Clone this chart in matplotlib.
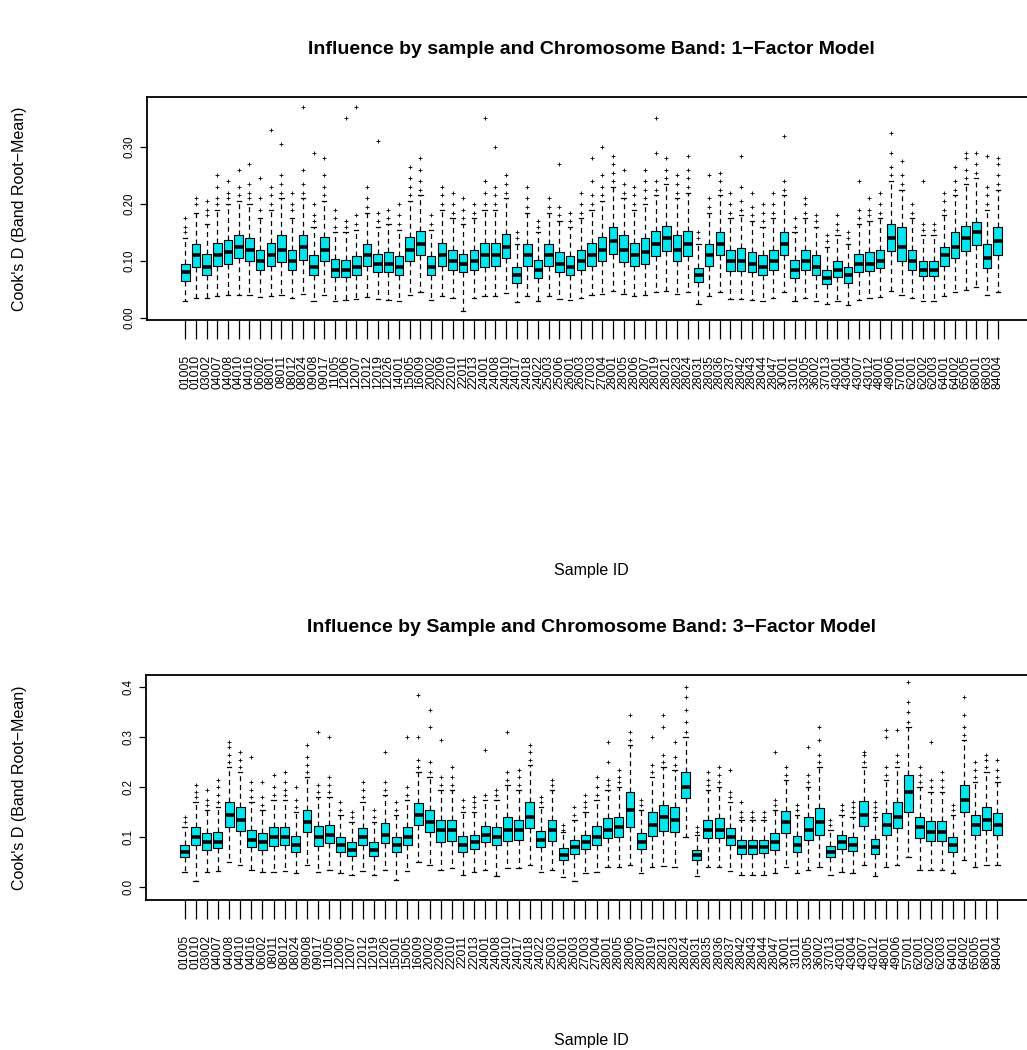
import matplotlib
matplotlib.use('Agg')
import matplotlib.pyplot as plt

plt.rcParams['font.family'] = ['Liberation Sans', 'DejaVu Sans']

# ---------------- data: top panel (1-factor model) ----------------
labels_top = ["01005", "01010", "03002", "04007", "04008", "04010", "04016", "06002", "08001", "08011",
              "08012", "08024", "09008", "09017", "11005", "12006", "12007", "12012", "12019", "12026",
              "14001", "15005", "16009", "20002", "22009", "22010", "22011", "22013", "24001", "24008",
              "24010", "24017", "24018", "24022", "25003", "25006", "26001", "26003", "27003", "27004",
              "28001", "28005", "28006", "28007", "28019", "28021", "28023", "28024", "28031", "28035",
              "28036", "28037", "28042", "28043", "28044", "28047", "30001", "31001", "33005", "36002",
              "37013", "43001", "43004", "43007", "43012", "48001", "49006", "57001", "62001", "62002",
              "62003", "64001", "64002", "65005", "68001", "68003", "84004"]

med_top = [0.080, 0.110, 0.090, 0.110, 0.115, 0.125, 0.120, 0.100, 0.110, 0.120,
           0.100, 0.125, 0.090, 0.120, 0.085, 0.085, 0.090, 0.110, 0.095, 0.095,
           0.090, 0.120, 0.130, 0.090, 0.110, 0.100, 0.095, 0.100, 0.110, 0.110,
           0.125, 0.075, 0.110, 0.085, 0.110, 0.095, 0.090, 0.100, 0.110, 0.120,
           0.135, 0.120, 0.110, 0.115, 0.130, 0.140, 0.120, 0.130, 0.075, 0.110,
           0.130, 0.100, 0.100, 0.095, 0.090, 0.100, 0.130, 0.085, 0.100, 0.090,
           0.070, 0.085, 0.075, 0.095, 0.095, 0.100, 0.140, 0.125, 0.100, 0.085,
           0.085, 0.110, 0.125, 0.140, 0.150, 0.105, 0.135]
q1_top = [0.065, 0.090, 0.075, 0.092, 0.095, 0.105, 0.100, 0.085, 0.092, 0.098,
          0.085, 0.102, 0.075, 0.100, 0.072, 0.072, 0.075, 0.092, 0.080, 0.080,
          0.076, 0.100, 0.110, 0.075, 0.092, 0.085, 0.080, 0.084, 0.090, 0.092,
          0.105, 0.062, 0.092, 0.070, 0.092, 0.080, 0.075, 0.085, 0.092, 0.100,
          0.112, 0.098, 0.092, 0.095, 0.108, 0.118, 0.100, 0.108, 0.063, 0.092,
          0.110, 0.083, 0.083, 0.080, 0.076, 0.085, 0.110, 0.070, 0.084, 0.075,
          0.060, 0.072, 0.062, 0.080, 0.082, 0.088, 0.118, 0.100, 0.085, 0.073,
          0.074, 0.092, 0.105, 0.118, 0.128, 0.088, 0.110]
q3_top = [0.095, 0.130, 0.112, 0.132, 0.137, 0.145, 0.140, 0.120, 0.132, 0.145,
          0.120, 0.145, 0.110, 0.142, 0.103, 0.102, 0.108, 0.130, 0.112, 0.115,
          0.108, 0.142, 0.152, 0.108, 0.132, 0.120, 0.112, 0.120, 0.132, 0.132,
          0.148, 0.090, 0.130, 0.102, 0.130, 0.115, 0.108, 0.120, 0.132, 0.142,
          0.160, 0.145, 0.132, 0.140, 0.152, 0.162, 0.145, 0.152, 0.088, 0.130,
          0.150, 0.120, 0.122, 0.115, 0.110, 0.120, 0.150, 0.102, 0.120, 0.110,
          0.085, 0.100, 0.090, 0.112, 0.115, 0.120, 0.165, 0.160, 0.120, 0.100,
          0.100, 0.125, 0.150, 0.162, 0.168, 0.130, 0.160]
wlo_top = [0.030, 0.035, 0.035, 0.038, 0.040, 0.040, 0.040, 0.036, 0.038, 0.040,
           0.035, 0.042, 0.030, 0.040, 0.030, 0.032, 0.034, 0.036, 0.034, 0.032,
           0.030, 0.040, 0.045, 0.032, 0.038, 0.035, 0.012, 0.035, 0.038, 0.038,
           0.044, 0.028, 0.038, 0.030, 0.038, 0.034, 0.032, 0.035, 0.040, 0.042,
           0.048, 0.042, 0.038, 0.040, 0.045, 0.048, 0.042, 0.045, 0.025, 0.038,
           0.045, 0.034, 0.034, 0.032, 0.030, 0.035, 0.045, 0.030, 0.035, 0.030,
           0.025, 0.030, 0.022, 0.032, 0.035, 0.036, 0.048, 0.040, 0.035, 0.030,
           0.030, 0.038, 0.045, 0.050, 0.055, 0.040, 0.045]
whi_top = [0.140, 0.185, 0.165, 0.190, 0.200, 0.205, 0.200, 0.175, 0.190, 0.210,
           0.175, 0.210, 0.160, 0.205, 0.150, 0.150, 0.155, 0.185, 0.160, 0.165,
           0.155, 0.205, 0.215, 0.155, 0.190, 0.175, 0.165, 0.175, 0.190, 0.190,
           0.210, 0.130, 0.185, 0.150, 0.185, 0.170, 0.160, 0.175, 0.190, 0.205,
           0.230, 0.210, 0.190, 0.200, 0.215, 0.235, 0.210, 0.220, 0.130, 0.185,
           0.215, 0.175, 0.180, 0.170, 0.160, 0.175, 0.215, 0.150, 0.175, 0.160,
           0.125, 0.145, 0.130, 0.165, 0.170, 0.175, 0.240, 0.225, 0.175, 0.145,
           0.145, 0.180, 0.215, 0.235, 0.245, 0.190, 0.225]
out_top = [[0.15, 0.16, 0.175], [0.20, 0.21], [0.18, 0.19, 0.205], [0.20, 0.21, 0.23, 0.25],
           [0.21, 0.22, 0.24], [0.215, 0.23, 0.26], [0.21, 0.22, 0.235, 0.27], [0.19, 0.21, 0.245],
           [0.20, 0.215, 0.23, 0.33], [0.22, 0.235, 0.25, 0.305], [0.19, 0.20, 0.22],
           [0.22, 0.235, 0.26, 0.37], [0.17, 0.18, 0.20, 0.29], [0.215, 0.23, 0.25, 0.28],
           [0.16, 0.175, 0.19], [0.16, 0.17, 0.35], [0.165, 0.18, 0.37], [0.195, 0.21, 0.23],
           [0.17, 0.185, 0.31], [0.175, 0.19], [0.165, 0.18, 0.20], [0.215, 0.23, 0.245, 0.265],
           [0.225, 0.24, 0.26, 0.28], [0.165, 0.18], [0.20, 0.215, 0.23], [0.185, 0.20, 0.22],
           [0.175, 0.19, 0.21], [0.185, 0.20], [0.20, 0.22, 0.24, 0.35], [0.20, 0.215, 0.23, 0.30],
           [0.22, 0.235, 0.25], [0.14, 0.15], [0.195, 0.21, 0.23], [0.16, 0.17], [0.195, 0.21],
           [0.18, 0.195, 0.27], [0.17, 0.185], [0.185, 0.20, 0.22], [0.20, 0.215, 0.24, 0.28],
           [0.215, 0.23, 0.25, 0.30], [0.24, 0.255, 0.27, 0.285], [0.22, 0.235, 0.26],
           [0.20, 0.215, 0.23], [0.21, 0.225, 0.24, 0.26], [0.225, 0.24, 0.29, 0.35],
           [0.245, 0.26, 0.28], [0.22, 0.235, 0.25], [0.23, 0.245, 0.26, 0.285], [0.14, 0.15],
           [0.195, 0.21, 0.25], [0.225, 0.24, 0.255], [0.185, 0.20, 0.22], [0.19, 0.205, 0.23, 0.285],
           [0.18, 0.195, 0.22], [0.17, 0.185, 0.20], [0.185, 0.20, 0.22], [0.225, 0.24, 0.32],
           [0.16, 0.175], [0.185, 0.20, 0.21], [0.17, 0.18], [0.135, 0.145], [0.155, 0.165, 0.18],
           [0.14, 0.15], [0.175, 0.19, 0.24], [0.18, 0.19, 0.21], [0.185, 0.20, 0.22],
           [0.25, 0.265, 0.29, 0.325], [0.235, 0.25, 0.275], [0.185, 0.20], [0.155, 0.165, 0.24],
           [0.155, 0.165], [0.19, 0.205, 0.22], [0.225, 0.24, 0.265], [0.245, 0.26, 0.28, 0.29],
           [0.255, 0.27, 0.29], [0.20, 0.215, 0.23, 0.285], [0.235, 0.25, 0.27, 0.28]]

# ---------------- data: bottom panel (3-factor model) ----------------
labels_bot = ["01005", "01010", "03002", "04007", "04008", "04010", "04016", "06002", "08011", "08012",
              "08024", "09008", "09017", "11005", "12006", "12007", "12012", "12019", "12026", "15001",
              "15005", "16009", "20002", "22009", "22010", "22011", "22013", "24001", "24008", "24010",
              "24017", "24018", "24022", "25003", "26001", "26003", "27003", "27004", "28001", "28005",
              "28006", "28007", "28019", "28021", "28023", "28024", "28031", "28035", "28036", "28037",
              "28042", "28043", "28044", "28047", "30001", "31011", "33005", "36002", "37013", "43001",
              "43004", "43007", "43012", "48001", "49006", "57001", "62001", "62002", "62003", "64001",
              "64002", "65005", "68001", "84004"]

med_bot = [0.070, 0.100, 0.090, 0.090, 0.145, 0.135, 0.095, 0.090, 0.100, 0.100,
           0.085, 0.130, 0.100, 0.105, 0.085, 0.075, 0.100, 0.075, 0.105, 0.085,
           0.100, 0.145, 0.130, 0.115, 0.115, 0.085, 0.090, 0.105, 0.100, 0.115,
           0.115, 0.140, 0.095, 0.115, 0.065, 0.080, 0.090, 0.100, 0.115, 0.120,
           0.155, 0.090, 0.125, 0.140, 0.135, 0.200, 0.065, 0.115, 0.115, 0.100,
           0.080, 0.080, 0.080, 0.090, 0.130, 0.085, 0.115, 0.130, 0.070, 0.090,
           0.085, 0.145, 0.080, 0.125, 0.140, 0.190, 0.120, 0.110, 0.110, 0.085,
           0.175, 0.125, 0.135, 0.125]
q1_bot = [0.060, 0.085, 0.075, 0.078, 0.120, 0.112, 0.080, 0.075, 0.082, 0.084,
          0.070, 0.110, 0.082, 0.088, 0.070, 0.062, 0.084, 0.062, 0.088, 0.070,
          0.085, 0.125, 0.110, 0.090, 0.092, 0.070, 0.076, 0.090, 0.084, 0.092,
          0.095, 0.118, 0.080, 0.092, 0.055, 0.066, 0.076, 0.084, 0.098, 0.100,
          0.120, 0.076, 0.102, 0.112, 0.110, 0.178, 0.055, 0.098, 0.098, 0.084,
          0.066, 0.066, 0.068, 0.075, 0.108, 0.070, 0.095, 0.105, 0.060, 0.076,
          0.072, 0.122, 0.066, 0.104, 0.118, 0.150, 0.098, 0.092, 0.092, 0.070,
          0.150, 0.105, 0.115, 0.105]
q3_bot = [0.085, 0.120, 0.108, 0.110, 0.170, 0.160, 0.115, 0.108, 0.120, 0.120,
          0.102, 0.155, 0.122, 0.125, 0.100, 0.090, 0.118, 0.090, 0.128, 0.100,
          0.120, 0.168, 0.155, 0.135, 0.135, 0.102, 0.105, 0.122, 0.120, 0.140,
          0.135, 0.170, 0.112, 0.135, 0.078, 0.095, 0.105, 0.122, 0.138, 0.140,
          0.190, 0.108, 0.150, 0.165, 0.160, 0.230, 0.075, 0.135, 0.138, 0.118,
          0.095, 0.094, 0.095, 0.108, 0.152, 0.102, 0.140, 0.158, 0.082, 0.104,
          0.100, 0.172, 0.096, 0.148, 0.170, 0.225, 0.140, 0.132, 0.132, 0.100,
          0.205, 0.145, 0.160, 0.148]
wlo_bot = [0.030, 0.012, 0.030, 0.032, 0.050, 0.045, 0.035, 0.030, 0.030, 0.032,
           0.028, 0.045, 0.030, 0.035, 0.028, 0.025, 0.032, 0.025, 0.035, 0.015,
           0.032, 0.050, 0.045, 0.035, 0.038, 0.025, 0.030, 0.035, 0.022, 0.038,
           0.038, 0.045, 0.030, 0.035, 0.020, 0.012, 0.028, 0.030, 0.040, 0.040,
           0.045, 0.028, 0.040, 0.042, 0.040, 0.100, 0.022, 0.040, 0.040, 0.032,
           0.025, 0.025, 0.025, 0.028, 0.040, 0.028, 0.035, 0.040, 0.025, 0.030,
           0.028, 0.045, 0.022, 0.040, 0.045, 0.060, 0.035, 0.035, 0.035, 0.028,
           0.055, 0.040, 0.045, 0.045]
whi_bot = [0.120, 0.170, 0.155, 0.160, 0.240, 0.230, 0.170, 0.155, 0.175, 0.175,
           0.150, 0.220, 0.180, 0.180, 0.145, 0.130, 0.170, 0.130, 0.185, 0.145,
           0.175, 0.230, 0.220, 0.195, 0.195, 0.150, 0.150, 0.175, 0.175, 0.205,
           0.195, 0.245, 0.160, 0.195, 0.110, 0.135, 0.150, 0.175, 0.195, 0.200,
           0.285, 0.155, 0.220, 0.240, 0.235, 0.300, 0.105, 0.195, 0.200, 0.170,
           0.135, 0.135, 0.135, 0.155, 0.215, 0.145, 0.200, 0.240, 0.115, 0.145,
           0.140, 0.240, 0.140, 0.215, 0.240, 0.320, 0.200, 0.190, 0.190, 0.145,
           0.295, 0.210, 0.230, 0.210]
out_bot = [[0.13, 0.14], [0.18, 0.19, 0.205], [0.165, 0.175, 0.195], [0.17, 0.185, 0.20, 0.215],
           [0.25, 0.265, 0.28, 0.29], [0.24, 0.255, 0.27], [0.18, 0.195, 0.21, 0.26],
           [0.165, 0.18, 0.21], [0.185, 0.20, 0.225], [0.185, 0.195, 0.21, 0.23], [0.16, 0.175, 0.20],
           [0.23, 0.245, 0.26, 0.285], [0.19, 0.205, 0.31], [0.19, 0.205, 0.22, 0.30], [0.155, 0.17],
           [0.14, 0.15], [0.18, 0.195, 0.21], [0.14, 0.155], [0.195, 0.21, 0.27], [0.155, 0.17],
           [0.185, 0.20, 0.30], [0.24, 0.255, 0.30, 0.385], [0.23, 0.25, 0.32, 0.355],
           [0.205, 0.22, 0.295], [0.205, 0.22, 0.24], [0.16, 0.175], [0.16, 0.17, 0.18],
           [0.185, 0.275], [0.185, 0.195], [0.215, 0.23, 0.31], [0.205, 0.22, 0.235],
           [0.255, 0.27, 0.285], [0.17, 0.18], [0.205, 0.215], [0.115, 0.125], [0.145, 0.16],
           [0.16, 0.17, 0.185], [0.185, 0.20, 0.22], [0.205, 0.215, 0.25, 0.29], [0.21, 0.22, 0.235],
           [0.295, 0.31, 0.345], [0.165, 0.175], [0.23, 0.245, 0.30], [0.25, 0.265, 0.32, 0.345],
           [0.245, 0.26, 0.29], [0.31, 0.33, 0.355, 0.38, 0.40], [0.11, 0.12], [0.205, 0.215, 0.23],
           [0.21, 0.225, 0.24], [0.18, 0.19, 0.235], [0.14, 0.15, 0.17], [0.14, 0.15], [0.14, 0.15],
           [0.165, 0.175, 0.27], [0.225, 0.24], [0.155, 0.165], [0.21, 0.225, 0.28],
           [0.25, 0.265, 0.295, 0.32], [0.125, 0.135], [0.155, 0.165], [0.15, 0.16, 0.17],
           [0.25, 0.265, 0.27], [0.15, 0.16, 0.17], [0.225, 0.24, 0.30, 0.315], [0.25, 0.265, 0.315],
           [0.33, 0.35, 0.37, 0.41], [0.21, 0.225, 0.24], [0.20, 0.215, 0.29], [0.20, 0.215, 0.23],
           [0.155, 0.165], [0.305, 0.32, 0.345, 0.38], [0.22, 0.235, 0.25], [0.24, 0.255, 0.265],
           [0.22, 0.235, 0.255]]

yticks_top = [0.0, 0.1, 0.2, 0.3]
yticks_bot = [0.0, 0.1, 0.2, 0.3, 0.4]

BOX = '#00E5EE'

W, H = 1027, 1050
fig = plt.figure(figsize=(W / 100, H / 100), dpi=100)


def panel(rect, labels, q1, med, q3, wlo, whi, outs, ylim, yticks, yfmt, title, title_y, xlab_y):
    ax = fig.add_axes(rect)
    n = len(labels)
    pos = list(range(1, n + 1))
    stats = []
    for i in range(n):
        stats.append(dict(med=med[i], q1=q1[i], q3=q3[i], whislo=wlo[i], whishi=whi[i],
                          fliers=outs[i], label=labels[i]))
    ax.bxp(stats, positions=pos, widths=0.8, capwidths=0.4, patch_artist=True, showfliers=True,
           boxprops=dict(facecolor=BOX, edgecolor='black', linewidth=0.8),
           medianprops=dict(color='black', linewidth=2.6, solid_capstyle='butt'),
           whiskerprops=dict(color='black', linewidth=0.9, linestyle=(0, (4, 3))),
           capprops=dict(color='black', linewidth=0.9),
           flierprops=dict(marker='+', markersize=2.3, markeredgecolor='black',
                           markeredgewidth=0.6, linestyle='none'))
    ext = 0.04 * n
    ax.set_xlim(0.5 - ext, n + 0.5 + ext)
    ax.set_ylim(*ylim)
    ax.set_xticks(pos)
    ax.set_xticklabels(labels, rotation=90, fontsize=8.8, va='top', ha='center')
    ax.set_yticks(yticks)
    ax.set_yticklabels([yfmt.format(v) for v in yticks], rotation=90, fontsize=8.3, va='center')
    ax.tick_params(axis='x', length=14, width=0.9, pad=11)
    ax.tick_params(axis='y', length=5, width=0.9, pad=3)
    for s in ax.spines.values():
        s.set_linewidth(1.3)
    fig.text(0.5755, title_y, title, ha='center', va='center', fontsize=14, fontweight='bold')
    fig.text(0.5755, xlab_y, 'Sample ID', ha='center', va='center', fontsize=11.5)
    cy = rect[1] + rect[3] / 2
    fig.text(0.019, cy, "Cook's D (Band Root\u2212Mean)",
             rotation=90, ha='center', va='center', fontsize=11.5)
    return ax


panel([147 / W, (H - 320) / H, (1036 - 147) / W, 223 / H], labels_top, q1_top, med_top, q3_top,
      wlo_top, whi_top, out_top, (-0.0035, 0.3877), yticks_top, '{:.2f}',
      'Influence by sample and Chromosome Band: 1\u2212Factor Model', 1 - 50 / H, 1 - 571 / H)
panel([146 / W, (H - 900) / H, (1036 - 146) / W, 225 / H], labels_bot, q1_bot, med_bot, q3_bot,
      wlo_bot, whi_bot, out_bot, (-0.026, 0.424), yticks_bot, '{:.1f}',
      'Influence by Sample and Chromosome Band: 3\u2212Factor Model', 1 - 628 / H, 1 - 1040 / H)

fig.savefig('out.png', dpi=100)
